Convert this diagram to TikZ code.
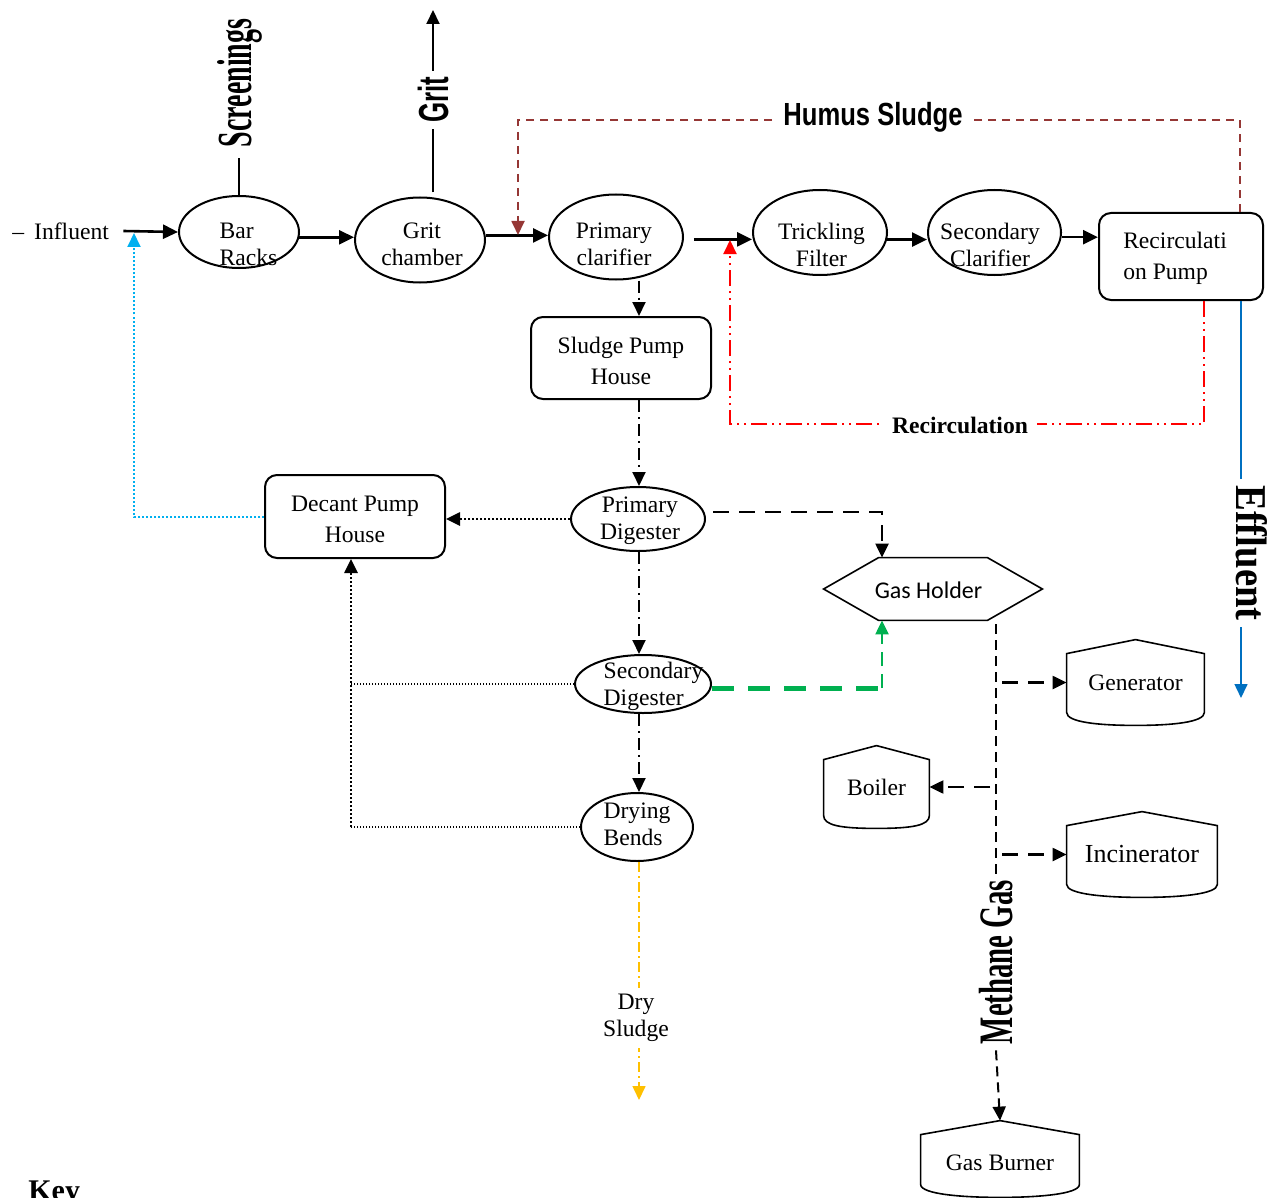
\documentclass[tikz,border=0pt]{standalone}
\usepackage{fontspec}
\usepackage{graphicx}
\setmainfont{Liberation Serif}
\newfontfamily\carlito{Carlito}
\newfontfamily\lsans{Liberation Sans}
\usetikzlibrary{shapes.geometric,arrows.meta,calc}
\definecolor{humus}{RGB}{149,55,53}
\definecolor{cyanblue}{RGB}{0,176,240}
\definecolor{effblue}{RGB}{0,112,192}
\definecolor{mygreen}{RGB}{0,176,80}
\definecolor{myyellow}{RGB}{255,192,0}
\newcommand\roofbox[1]{\draw[shp] (#1.north) -- ([yshift=-7pt]#1.north east) -- ([yshift=6.5pt]#1.south east) .. controls ([yshift=1.5pt]#1.south east) and ([xshift=18pt]#1.south) .. (#1.south) .. controls ([xshift=-18pt]#1.south) and ([yshift=1.5pt]#1.south west) .. ([yshift=6.5pt]#1.south west) -- ([yshift=-7pt]#1.north west) -- cycle;}
\tikzset{
  txt/.style={font=\fontsize{11.8}{13.5}\selectfont,align=center},
  boxtxt/.style={font=\fontsize{11.8}{15.5}\selectfont,align=center},
  proc/.style={ellipse,draw,line width=1pt,inner sep=0pt},
  pbox/.style={draw,rounded corners=6pt,line width=1pt,inner sep=0pt,boxtxt},
  roof/.style={inner sep=0pt,font=\fontsize{11.8}{13.5}\selectfont},
  shp/.style={line width=0.8pt},
  bigtip/.style={-{Triangle[length=7.5pt,width=7pt]}},
  tip/.style={-{Triangle[length=7pt,width=6.5pt]}},
  flow/.style={line width=1.3pt,bigtip},
  dashdot/.style={line width=1pt,dash pattern=on 6pt off 2.5pt on 1pt off 2.5pt,tip},
  dotblk/.style={line width=1.3pt,dash pattern=on 1pt off 1pt},
  dotthin/.style={line width=0.8pt,dash pattern=on 0.7pt off 0.8pt},
  humusline/.style={humus,line width=0.9pt,dash pattern=on 4pt off 3pt},
  recline/.style={red,line width=1pt,dash pattern=on 8pt off 2.5pt on 1pt off 2.5pt on 1pt off 2.5pt},
  effline/.style={effblue,line width=0.8pt},
  cyanline/.style={cyanblue,line width=1pt,dash pattern=on 1pt off 1pt},
  greenline/.style={mygreen,line width=2.5pt,dash pattern=on 11pt off 7pt},
  greenv/.style={mygreen,line width=1.1pt,dash pattern=on 7pt off 4pt},
  yellowline/.style={myyellow,line width=0.8pt,dash pattern=on 5pt off 2pt on 1pt off 2pt},
  gasv/.style={line width=1pt,dash pattern=on 5pt off 3pt},
  gasb/.style={line width=1.1pt,dash pattern=on 8pt off 5pt},
  boldlab/.style={font=\bfseries\fontsize{11.8}{13.5}\selectfont,fill=white,inner sep=4.5pt},
}
\begin{document}
\begin{tikzpicture}[x=0.5pt,y=-0.5pt]
\useasboundingbox (0,0) rectangle (1273,1198);

% ---------- nodes ----------
\node[txt,anchor=west,inner sep=0pt] (inf) at (12,231) {–\kern5pt Influent};
\node[proc,minimum width=60pt,minimum height=36pt,
  label={[txt,align=left,xshift=4.75pt,yshift=-6.25pt]center:{Bar\\Racks}}] (br) at (239,232) {};
\node[proc,minimum width=65pt,minimum height=42.5pt,
  label={[txt,xshift=1pt,yshift=-2.25pt]center:{Grit\\chamber}}] (gc) at (420,240) {};
\node[proc,minimum width=67pt,minimum height=42.5pt,
  label={[txt,xshift=-1pt,yshift=-3.75pt]center:{Primary\\clarifier}}] (pc) at (616,237) {};
\node[proc,minimum width=67pt,minimum height=42.5pt,
  label={[txt,xshift=0.75pt,yshift=-6pt]center:{Trickling\\Filter}}] (tf) at (820,232.5) {};
\node[proc,minimum width=66.5pt,minimum height=42.5pt,
  label={[txt,xshift=-2.25pt,yshift=-6pt]center:{Secondary\\Clarifier}}] (sc) at (994.5,232.5) {};
\node[pbox,minimum width=82pt,minimum height=43.5pt,
  label={[boxtxt,align=left,xshift=-3pt,yshift=-0.75pt]center:{Recirculati\\on Pump}}] (rp) at (1181,256.5) {};
\node[pbox,minimum width=90pt,minimum height=41pt,
  label={[boxtxt,yshift=-1.25pt]center:{Sludge Pump\\House}}] (sph) at (621,358) {};
\node[pbox,minimum width=90pt,minimum height=41.5pt,
  label={[boxtxt,yshift=-1.25pt]center:{Decant Pump\\House}}] (dph) at (355,516.5) {};
\node[proc,minimum width=67pt,minimum height=32pt,
  label={[txt,xshift=1pt,yshift=-1pt]center:{Primary\\Digester}}] (pd) at (638,519) {};
\node[proc,minimum width=68pt,minimum height=29pt,
  label={[txt,align=left,xshift=5.25pt,yshift=-1pt]center:{Secondary\\Digester}}] (sd) at (643,684) {};
\node[proc,minimum width=56pt,minimum height=34pt,
  label={[txt,align=left,yshift=1.5pt]center:{Drying\\Bends}}] (db) at (637,827) {};

\node[inner sep=0pt,minimum width=109pt,minimum height=31pt,
  label={[font=\carlito\fontsize{12}{14}\selectfont,xshift=-2.25pt,yshift=-0.75pt]center:Gas Holder}] (gh) at (933,589) {};
\draw[shp] (gh.west) -- ([xshift=27.5pt]gh.north west) -- ([xshift=-27.5pt]gh.north east)
  -- (gh.east) -- ([xshift=-27.5pt]gh.south east) -- ([xshift=27.5pt]gh.south west) -- cycle;

\node[roof,minimum width=68.5pt,minimum height=42.5pt] (gen) at (1135.5,682.5) {Generator};
\node[roof,minimum width=52.5pt,minimum height=41pt] (boi) at (876.5,787) {Boiler};
\node[roof,minimum width=75pt,minimum height=42.5pt,font=\fontsize{13}{15}\selectfont] (inc) at (1142,854.5) {Incinerator};
\node[roof,minimum width=79pt,minimum height=38pt,
  label={[roof,yshift=-2pt]center:Gas Burner}] (gb) at (1000,1159) {};
\roofbox{gen}
\roofbox{boi}
\roofbox{inc}
\roofbox{gb}

% rotated labels that split connectors
\node[rotate=90,inner sep=5pt,font=\bfseries\fontsize{24.5}{26}\selectfont] (scr) at (240,83) {\scalebox{0.571}[1]{Screenings}};
\node[rotate=90,inner sep=3pt,font=\lsans\bfseries\fontsize{21}{23}\selectfont] (grit) at (433,100) {\scalebox{0.616}[1]{Grit}};
\node[rotate=90,inner sep=3pt,font=\bfseries\fontsize{24}{26}\selectfont] (mg) at (996,962) {\scalebox{0.6}[1]{Methane Gas}};

% ---------- coordinates ----------
\coordinate (gtop) at (433,10);
\coordinate (join) at (134,233);
\coordinate (hs1) at (1240,120);
\coordinate (hs2) at (518,120);
\coordinate (hs3) at (518,235);
\coordinate (rc1) at (1204,424);
\coordinate (rc2) at (730,424);
\coordinate (rc3) at (730,240);
\coordinate (ef) at (1241,698);
\coordinate (vx) at (639,0);
\coordinate (dvx) at (351,0);
\coordinate (dryend) at (639,1100);
\coordinate (gcorner) at (882,688);
\coordinate (ghout) at (996,624);

% ---------- main flow ----------
\draw[flow] ([xshift=7pt]inf.east) -- (br.west);
\draw[flow] (br.-5) -- (gc.west |- br.-5);
\draw[flow] (gc.4) -- (pc.west |- gc.4);
\draw[flow,shorten <=5pt] (pc.-2) -- (tf.west |- pc.-2);
\draw[flow] (tf.-6) -- (sc.west |- tf.-6);
\draw[flow] (sc.-4) -- (rp.west |- sc.-4);

% screenings and grit
\draw[line width=1pt] (br.north) -- (br.north |- scr.west);
\draw[line width=1pt,shorten <=2pt] (gc.north -| grit.west) -- (grit.west);
\draw[line width=1pt,tip] (grit.east) -- (gtop);

% humus sludge
\draw[humusline,tip] (rp.north -| hs1) -- (hs1) -- (hs2) -- (hs3);
\node[font=\lsans\bfseries\fontsize{16}{18}\selectfont,fill=white,inner sep=5pt] (hum) at (873,117) {\scalebox{0.8}[1]{Humus Sludge}};

% recirculation
\draw[recline,tip] (rp.south -| rc1) -- (rc1) -- (rc2) -- (rc3);
\node[boldlab] (rec) at (960,425) {Recirculation};

% effluent
\draw[effline,tip] (rp.south -| ef) -- (ef);
\node[rotate=-90,fill=white,inner sep=3pt,font=\bfseries\fontsize{22}{24}\selectfont] (eff) at (1252,553) {\scalebox{0.88}[1]{Effluent}};

% sludge line
\draw[dashdot] (pc.south -| vx) -- (sph.north -| vx);
\draw[dashdot] (sph.south -| vx) -- (pd.north -| vx);
\draw[dashdot] (pd.south -| vx) -- (sd.north -| vx);
\draw[dashdot] (sd.south -| vx) -- (db.north -| vx);
\draw[yellowline,tip] (db.south -| vx) -- (dryend);
\node[txt,fill=white,inner sep=3pt] (dry) at (636,1018) {Dry\\Sludge};

% decant connections
\draw[dotblk,tip] (pd.west) -- (dph.east |- pd.west);
\draw[dotthin] (sd.west) -- (sd.west -| dvx);
\draw[dotthin] (db.west) -- (db.west -| dvx);
\draw[dotblk,tip] (db.west -| dvx) -- (dph.south -| dvx);
\draw[cyanline,tip] (dph.west) -| (join);

% gas connections
\draw[gasb,tip] ([shift={(3.5pt,3.5pt)}]pd.east) -| ([xshift=-25.5pt]gh.north);
\draw[greenline] ([yshift=-2pt]sd.east) -- (gcorner) -- ++(0,-8);
\draw[greenv,tip] (gcorner) -- ([xshift=-25.5pt]gh.south);
\draw[gasv] (ghout) -- (mg.east);
\draw[gasv,tip] (mg.west) -- (gb.north);
\draw[gasb,tip,shorten <=3pt] (ghout |- gen.west) -- (gen.west);
\draw[gasb,tip,shorten <=3pt] (ghout |- boi.east) -- (boi.east);
\draw[gasb,tip,shorten <=3pt] (ghout |- inc.west) -- (inc.west);

% key
\node[anchor=base west,inner sep=0pt,font=\bfseries\fontsize{15}{17}\selectfont] (key) at (28,1200) {Key};
\end{tikzpicture}
\end{document}
